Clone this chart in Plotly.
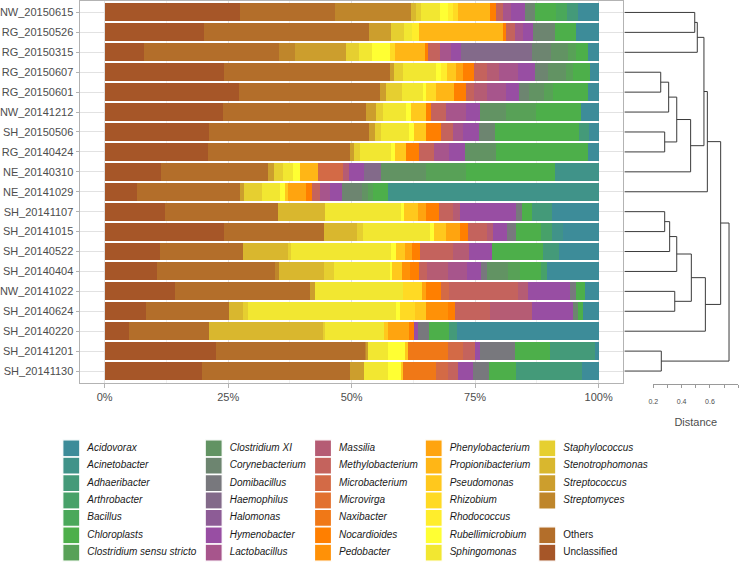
import plotly.graph_objects as go

# samples, top to bottom (dendrogram leaf order)
samples = [
    "NW_20150615", "RG_20150526", "RG_20150315", "RG_20150607", "RG_20150601",
    "NW_20141212", "SH_20150506", "RG_20140424", "NE_20140310", "NE_20141029",
    "SH_20141107", "SH_20141015", "SH_20140522", "SH_20140404", "NW_20141022",
    "SH_20140624", "SH_20140220", "SH_20141201", "SH_20141130",
]

# genera in stacking order, left to right
genera = [
    "Unclassified", "Others", "Streptomyces", "Streptococcus", "Stenotrophomonas",
    "Staphylococcus", "Sphingomonas", "Rubellimicrobium", "Rhodococcus", "Rhizobium",
    "Pseudomonas", "Propionibacterium", "Phenylobacterium", "Pedobacter", "Nocardioides",
    "Naxibacter", "Microvirga", "Microbacterium", "Methylobacterium", "Massilia",
    "Lactobacillus", "Hymenobacter", "Halomonas", "Haemophilus", "Domibacillus",
    "Corynebacterium", "Clostridium XI", "Clostridium sensu stricto", "Chloroplasts", "Bacillus",
    "Arthrobacter", "Adhaeribacter", "Acinetobacter", "Acidovorax",
]

# relative abundance (%), one list per sample, same order as `genera`
NW_20150615 = [27.4, 19.2, 15.5, 0, 0.9, 1.1, 3.7, 1.7, 1.0, 1.0,
               0, 6.5, 0, 0, 1.3, 0, 0, 0, 1.3, 0,
               1.7, 2.7, 0, 0, 0, 2.2, 0, 0, 4.2, 2.3,
               0, 2.1, 0, 4.2]
RG_20150526 = [20.1, 33.5, 0, 4.3, 0, 2.7, 1.7, 0, 1.4, 0,
               0, 16.9, 0, 0, 0.7, 0, 0, 0, 1.7, 0,
               1.7, 2.0, 0, 0, 0, 4.4, 0, 0, 4.3, 0,
               0, 0, 0, 4.6]
RG_20150315 = [7.95, 27.4, 3.2, 10.3, 0, 2.7, 2.5, 3.7, 0, 1.0,
               0, 6.1, 0, 0, 0.6, 0, 0, 0, 2.4, 0,
               2.4, 2.0, 0, 14.4, 0, 3.8, 3.4, 1.7, 2.3, 0,
               0, 0, 0, 2.2]
RG_20150607 = [24.1, 33.6, 0, 0.9, 0, 1.8, 6.7, 1.0, 1.2, 0,
               1.8, 0, 1.4, 0, 2.3, 0, 0, 0, 2.7, 2.4,
               3.7, 3.6, 0, 0, 0, 2.5, 3.7, 1.4, 3.4, 0,
               0, 0, 0, 1.8]
RG_20150601 = [27.1, 28.6, 0, 1.3, 0, 3.1, 4.3, 0.7, 0, 2.0,
               0, 3.7, 0, 0, 2.4, 0, 0, 0, 1.6, 2.7,
               3.8, 2.5, 0, 0, 0, 2.2, 3.0, 1.7, 7.1, 0,
               0, 0, 0, 2.2]
NW_20141212 = [23.9, 29.1, 0, 2.0, 0, 1.3, 4.7, 1.0, 0, 0,
               3.1, 0, 0, 0, 1.0, 0, 0, 0, 3.0, 0,
               4.1, 2.7, 0, 0, 0, 0, 5.4, 6.0, 9.2, 0,
               0, 0, 0, 3.5]
SH_20150506 = [21.1, 32.5, 0, 1.1, 0, 1.3, 5.7, 1.0, 0, 0,
               2.4, 0, 0, 0, 3.0, 0, 0, 0, 2.4, 0,
               2.0, 3.3, 0, 0, 0, 3.2, 0, 0, 17.1, 0,
               0, 2.0, 0, 1.9]
RG_20140424 = [21.0, 28.8, 0, 0.7, 0, 1.2, 6.3, 0.9, 0, 0,
               2.2, 0, 0, 0, 2.5, 0, 0, 0, 3.1, 0,
               3.0, 3.4, 0, 0, 0, 0, 6.3, 0, 18.5, 0,
               0, 0, 0, 2.2]
NE_20140310 = [11.4, 21.7, 0, 1.1, 0, 2.0, 1.9, 1.5, 0, 0,
               0, 3.5, 0, 0, 0, 0, 0, 5.1, 0, 1.3,
               0, 3.1, 0, 3.4, 0, 0, 9.1, 8.1, 18.0, 0,
               0, 0, 8.8, 0]
NE_20141029 = [6.5, 20.9, 0, 0.8, 0, 3.6, 3.7, 1.0, 0, 0,
               0.7, 0, 3.6, 0, 1.1, 0, 0, 0, 1.7, 0,
               2.0, 2.4, 0, 0, 0, 4.0, 1.4, 1.0, 3.0, 0,
               0, 0, 42.6, 0]
SH_20141107 = [12.2, 22.9, 0, 0, 9.4, 0, 15.5, 0.6, 0, 0,
               2.7, 0, 1.7, 0, 2.7, 0, 0, 0, 2.7, 1.5,
               0, 11.2, 0, 0, 1.4, 0, 0, 0, 2.0, 0,
               0, 3.9, 0, 9.5]
SH_20141015 = [24.1, 20.2, 0, 0, 6.8, 1.1, 13.5, 0.9, 0, 0,
               2.4, 0, 2.9, 0, 1.5, 0, 0, 0, 4.0, 1.1,
               0, 2.8, 0, 0, 1.9, 0, 0, 0, 5.1, 0,
               2.1, 0, 2.3, 7.2]
SH_20140522 = [11.2, 16.8, 0, 0, 9.1, 0.7, 20.1, 1.0, 0, 0,
               1.9, 0, 1.5, 0, 1.6, 0, 0, 0, 6.7, 3.1,
               0, 4.7, 0, 0, 0, 0, 0, 0, 10.3, 0,
               0, 3.2, 0, 8.1]
SH_20140404 = [10.6, 23.8, 0.9, 0, 9.1, 2.0, 11.5, 0.3, 0, 0,
               2.0, 0, 0, 1.7, 1.7, 0, 0, 0, 1.7, 4.3,
               3.7, 2.9, 0, 0, 1.2, 0, 4.2, 2.5, 4.2, 0,
               1.2, 0, 0, 10.5]
NW_20141022 = [14.2, 27.3, 0, 1.0, 0, 0, 17.8, 0, 0, 4.0,
               0, 0, 0.7, 0, 3.0, 0, 0, 1.7, 14.0, 2.1,
               0, 8.4, 0, 0, 1.3, 0, 0, 0, 1.7, 0,
               0, 0, 0, 2.8]
SH_20140624 = [8.4, 16.7, 0, 0, 2.8, 1.1, 30.0, 0.7, 0, 3.0,
               2.2, 0, 0, 4.5, 1.4, 0, 0, 0, 7.1, 8.6,
               0, 8.2, 0, 0, 0, 1.0, 0, 0, 1.1, 0,
               0, 0, 0, 3.1]
SH_20140220 = [5.0, 16.2, 0, 0, 23.0, 0.5, 11.9, 0, 0, 0,
               0.7, 0, 4.4, 0, 1.0, 0, 0, 0, 0, 0,
               0, 0.8, 0, 0, 2.2, 0, 0, 0, 4.0, 0,
               0, 1.7, 0, 28.6]
SH_20141201 = [22.5, 30.3, 0.3, 0.3, 0, 0, 4.0, 3.4, 0, 0,
               0.6, 0, 0, 0, 0, 8.1, 0, 3.0, 2.4, 0,
               0, 1.1, 0, 0, 7.0, 0, 0, 0, 7.1, 0,
               0, 9.2, 0, 0.7]
SH_20141130 = [19.7, 29.9, 0, 2.9, 0, 0, 4.9, 2.5, 0, 0,
               0.5, 0, 0, 0, 0, 6.7, 0, 2.5, 1.9, 0,
               0, 3.0, 0, 0, 3.4, 0, 0, 0, 5.4, 0,
               0, 13.3, 0, 3.4]

rows = [NW_20150615, RG_20150526, RG_20150315, RG_20150607, RG_20150601,
        NW_20141212, SH_20150506, RG_20140424, NE_20140310, NE_20141029,
        SH_20141107, SH_20141015, SH_20140522, SH_20140404, NW_20141022,
        SH_20140624, SH_20140220, SH_20141201, SH_20141130]

# hierarchical clustering: (left, right, distance); ints point to earlier merges
merges = [
    ("NW_20150615", "RG_20150526", 0.495),
    (0, "RG_20150315", 0.513),
    ("RG_20150607", "RG_20150601", 0.255),
    (2, "NW_20141212", 0.311),
    ("SH_20150506", "RG_20140424", 0.283),
    (3, 4, 0.368),
    (5, "NE_20140310", 0.466),
    (1, 6, 0.560),
    (7, "NE_20141029", 0.584),
    ("SH_20141107", "SH_20141015", 0.283),
    (9, "SH_20140522", 0.318),
    (10, "SH_20140404", 0.368),
    ("NW_20141022", "SH_20140624", 0.354),
    (11, 12, 0.471),
    (13, "SH_20140220", 0.570),
    (8, 14, 0.678),
    ("SH_20141201", "SH_20141130", 0.259),
    (15, 16, 0.737),
]

distance_ticks = [0.2, 0.4, 0.6, 0.8]
pct_ticks = [0, 25, 50, 75, 100]

# colour ramp through Set1 blue, green, purple, orange, yellow, brown
anchors = ["#377EB8", "#4DAF4A", "#984EA3", "#FF7F00", "#FFFF33", "#A65628"]


def ramp(i):
    # legend index i; anchors sit at -2, 5, 12, 19, 26, 33
    t = (i + 2) / 7
    k = min(int(t), 4)
    f = t - k
    a = [int(anchors[k][j:j + 2], 16) for j in (1, 3, 5)]
    b = [int(anchors[k + 1][j:j + 2], 16) for j in (1, 3, 5)]
    return "rgb(%d,%d,%d)" % tuple(round(a[c] + (b[c] - a[c]) * f) for c in range(3))


legend_names = genera[::-1]
colors = {g: ramp(i) for i, g in enumerate(legend_names)}

fig = go.Figure()

for k, g in enumerate(genera):
    fig.add_trace(go.Bar(
        x=[r[k] for r in rows], y=samples, orientation="h",
        width=0.9, name=g, showlegend=False,
        marker=dict(color=colors[g], line=dict(width=0)),
    ))

# dendrogram segments
nodes = []
dx, dy = [], []


def node_pos(n):
    if isinstance(n, str):
        return samples.index(n), 0.0
    return nodes[n]


for left, right, h in merges:
    y1, h1 = node_pos(left)
    y2, h2 = node_pos(right)
    dx += [h1, h, h, h2, None]
    dy += [y1, y1, y2, y2, None]
    nodes.append(((y1 + y2) / 2, h))

fig.add_trace(go.Scatter(
    x=dx, y=dy, xaxis="x2", yaxis="y2", mode="lines",
    line=dict(color="#3a3a3a", width=1), showlegend=False, hoverinfo="skip",
    cliponaxis=False,
))
# carrier for the distance axis
fig.add_trace(go.Scatter(
    x=[0.2, 0.8], y=[-50, -50], xaxis="x3", yaxis="y2", mode="lines",
    line=dict(width=0), showlegend=False, hoverinfo="skip",
))

# hand-built legend, 5 columns x 7 rows, filled column by column
col_left = [63.3, 205.7, 315.0, 425.7, 539.3]
row_top = 448.3
row_step = 17.4
lx, ly, lt, lc = [], [], [], []
for j, name in enumerate(legend_names):
    slot = j if j < 32 else j + 1
    c, r = divmod(slot, 7)
    lx.append(col_left[c])
    ly.append(row_top + r * row_step)
    lt.append(name if name in ("Others", "Unclassified") else "<i>%s</i>" % name)
    lc.append(colors[name])

fig.add_trace(go.Scatter(
    x=[v + 8 for v in lx], y=ly, xaxis="x4", yaxis="y4", mode="markers",
    marker=dict(symbol="square", size=17, color=lc, line=dict(color="white", width=1.2)),
    showlegend=False, hoverinfo="skip", cliponaxis=False,
))
fig.add_trace(go.Scatter(
    x=[v + 24 for v in lx], y=ly, xaxis="x4", yaxis="y4", mode="text",
    text=lt, textposition="middle right",
    textfont=dict(size=10, color="#1a1a1a"),
    showlegend=False, hoverinfo="skip", cliponaxis=False,
))

W, H = 742, 562
panel_top, panel_bottom = 0.5, 383
ydom = [1 - panel_bottom / H, 1 - panel_top / H]
grey = "#B3B3B3"

fig.update_layout(
    template="none",
    width=W, height=H, margin=dict(l=0, r=0, t=0, b=0, pad=0, autoexpand=False),
    paper_bgcolor="white", plot_bgcolor="rgba(0,0,0,0)",
    barmode="stack", barnorm="percent",
    showlegend=False,
    font=dict(family="Liberation Sans, Arial, sans-serif", size=11, color="#4D4D4D"),
    xaxis=dict(
        domain=[80 / W, 623.3 / W], range=[-5, 105], automargin=False,
        tickvals=pct_ticks, ticktext=["%d%%" % v for v in pct_ticks],
        showgrid=True, gridcolor="#E2E2E2", gridwidth=0.8,
        minor=dict(dtick=12.5, tick0=0, showgrid=True, gridcolor="#F0F0F0", gridwidth=0.5),
        zeroline=False, showline=True, mirror=True, linecolor=grey, linewidth=1,
        ticks="outside", ticklen=3.5, tickcolor=grey, tickwidth=1,
        tickfont=dict(size=11, color="#4D4D4D"),
    ),
    yaxis=dict(
        domain=ydom, type="category", categoryorder="array", categoryarray=samples,
        range=[18.6, -0.6], automargin=False,
        showgrid=True, gridcolor="#E2E2E2", gridwidth=0.8,
        zeroline=False, showline=True, mirror=True, linecolor=grey, linewidth=1,
        ticks="outside", ticklen=3.5, tickcolor=grey, tickwidth=1,
        tickfont=dict(size=11, color="#4D4D4D"),
    ),
    xaxis2=dict(
        domain=[623.3 / W, 1], anchor="y2", automargin=False,
        range=[(623.3 - 624.6) / 141.7, (W - 624.6) / 141.7], visible=False,
    ),
    yaxis2=dict(domain=ydom, anchor="x2", range=[18.6, -0.6], visible=False,
                automargin=False),
    xaxis3=dict(
        domain=[653.3 / W, 738.3 / W], anchor="free", position=1 - 384 / H,
        range=[0.2, 0.8], tickvals=distance_ticks, automargin=False,
        ticktext=["%.1f" % v for v in distance_ticks],
        showgrid=False, zeroline=False, showline=True, linecolor="#9a9a9a", linewidth=1,
        ticks="outside", ticklen=3, tickcolor="#9a9a9a", tickwidth=1,
        minor=dict(dtick=0.1, tick0=0.2, ticks="outside", ticklen=3, tickcolor="#9a9a9a",
                   tickwidth=1, showgrid=False),
        tickfont=dict(size=7, color="#4D4D4D"), ticklabelstandoff=8,
        title=dict(text="Distance", font=dict(size=11, color="#4D4D4D"), standoff=13),
    ),
    xaxis4=dict(domain=[0, 1], anchor="y4", range=[0, W], visible=False,
                automargin=False),
    yaxis4=dict(domain=[0, 1], anchor="x4", range=[H, 0], visible=False,
                automargin=False),
)

# the page body carries an 8px default margin; drop it so the figure sits at 0,0
fig.write_html("out.html", config={"displayModeBar": False},
               post_script="document.body.style.margin='0';")
